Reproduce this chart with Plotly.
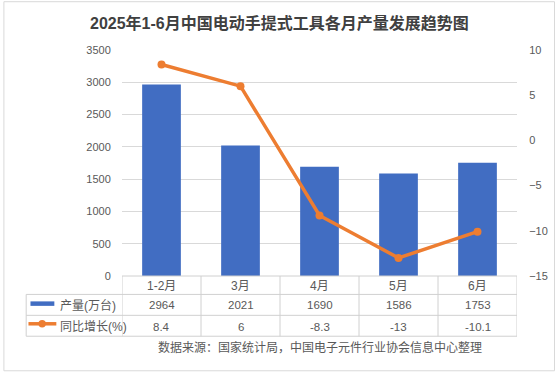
import plotly.graph_objects as go

categories = ["1-2月", "3月", "4月", "5月", "6月"]
production = [2964, 2021, 1690, 1586, 1753]
growth = [8.4, 6, -8.3, -13, -10.1]
growth_labels = ["8.4", "6", "-8.3", "-13", "-10.1"]
left_ticks = [0, 500, 1000, 1500, 2000, 2500, 3000, 3500]
right_ticks = [-15, -10, -5, 0, 5, 10]
series_names = ["产量(万台)", "同比增长(%)"]
title_text = "2025年1-6月中国电动手提式工具各月产量发展趋势图"
source_text = "数据来源：国家统计局，中国电子元件行业协会信息中心整理"

FONT = "Liberation Sans, Noto Sans CJK SC, sans-serif"
BLUE = "#416DC2"
ORANGE = "#ED7D31"
GRID = "#d9d9d9"
TXT = "#595959"

W, H = 560, 373
L, R, T, B = 122, 41, 49.5, 96.5
PW = W - L - R
PH = H - T - B


def px_x(x):
    return (x - L) / PW


def px_y(y):
    return (H - B - y) / PH


fig = go.Figure()
fig.add_trace(go.Bar(x=categories, y=production, name=series_names[0],
                     marker=dict(color=BLUE, line=dict(width=0)), width=0.49))
fig.add_trace(go.Scatter(x=categories, y=growth, name=series_names[1], yaxis="y2",
                         mode="lines+markers",
                         line=dict(color=ORANGE, width=3.5),
                         marker=dict(color=ORANGE, size=8)))

shapes = []
ann = []
lc = "#d0d0d0"
n = len(categories)
y_rows = [px_y(295), px_y(316), px_y(337)]
shapes.append(dict(type="line", xref="paper", yref="paper", x0=0, x1=1,
                   y0=0, y1=0, line=dict(color=lc, width=1)))
for yy in y_rows:
    shapes.append(dict(type="line", xref="paper", yref="paper", x0=px_x(25.7), x1=1,
                       y0=yy, y1=yy, line=dict(color=lc, width=1)))
for i in range(n + 1):
    shapes.append(dict(type="line", xref="x", yref="paper", x0=i - 0.5, x1=i - 0.5,
                       y0=0, y1=y_rows[-1], line=dict(color=lc, width=1)))
shapes.append(dict(type="line", xref="paper", yref="paper", x0=px_x(25.7), x1=px_x(25.7),
                   y0=y_rows[0], y1=y_rows[-1], line=dict(color=lc, width=1)))
# legend keys
shapes.append(dict(type="rect", xref="paper", yref="paper", x0=px_x(30), x1=px_x(54),
                   y0=px_y(306.5), y1=px_y(302), fillcolor=BLUE, line=dict(width=0)))
shapes.append(dict(type="line", xref="paper", yref="paper", x0=px_x(28), x1=px_x(56),
                   y0=px_y(324.5), y1=px_y(324.5), line=dict(color=ORANGE, width=3.5)))
shapes.append(dict(type="circle", xref="paper", yref="paper", x0=px_x(38), x1=px_x(45.5),
                   y0=px_y(328.2), y1=px_y(320.8), fillcolor=ORANGE, line=dict(width=0)))
# border
shapes.append(dict(type="rect", xref="paper", yref="paper", x0=px_x(3.3), x1=px_x(556.7),
                   y0=px_y(371.7), y1=px_y(1), line=dict(color=GRID, width=1), layer="below"))


def note(x, y, text, xref="paper", size=11.5, xanchor="center", color=TXT):
    return dict(x=x, y=y, xref=xref, yref="paper", text=text, showarrow=False,
                xanchor=xanchor, yanchor="middle",
                font=dict(size=size, color=color, family=FONT))


for i, c in enumerate(categories):
    ann.append(note(c, px_y(286.5), c, xref="x", size=12))
    ann.append(note(c, px_y(306), str(production[i]), xref="x"))
    ann.append(note(c, px_y(327.5), growth_labels[i], xref="x"))
ann.append(note(px_x(58), px_y(306), series_names[0], size=12, xanchor="left"))
ann.append(note(px_x(58), px_y(327.5), series_names[1], size=12, xanchor="left"))
ann.append(note(px_x(321.5), px_y(348), source_text, size=12))
ann.append(note(px_x(280), px_y(22), "<b>" + title_text + "</b>", size=16, color="#404040"))

fig.update_layout(
    width=W, height=H,
    margin=dict(l=L, r=R, t=T, b=B, pad=0),
    paper_bgcolor="white", plot_bgcolor="white",
    showlegend=False,
    bargap=0.51,
    font=dict(family=FONT, color=TXT, size=11),
    xaxis=dict(showticklabels=False, showgrid=False, zeroline=False, showline=False,
               ticks="", range=[-0.5, n - 0.5], fixedrange=True),
    yaxis=dict(range=[0, 3500], tickvals=left_ticks, showgrid=True, gridcolor=GRID,
               gridwidth=1, zeroline=False, showline=False, ticks="outside", ticklen=8,
               tickcolor="rgba(0,0,0,0)", tickfont=dict(size=11, color=TXT, family=FONT)),
    yaxis2=dict(range=[-15, 10], tickvals=right_ticks, overlaying="y", side="right",
                showgrid=False, zeroline=False, showline=False, ticks="outside", ticklen=9,
                tickcolor="rgba(0,0,0,0)", tickfont=dict(size=11, color=TXT, family=FONT)),
    shapes=shapes,
    annotations=ann,
)

fig.write_html("out.html", config={"displayModeBar": False},
               post_script="document.body.style.margin='0';document.body.style.overflow='hidden';")
